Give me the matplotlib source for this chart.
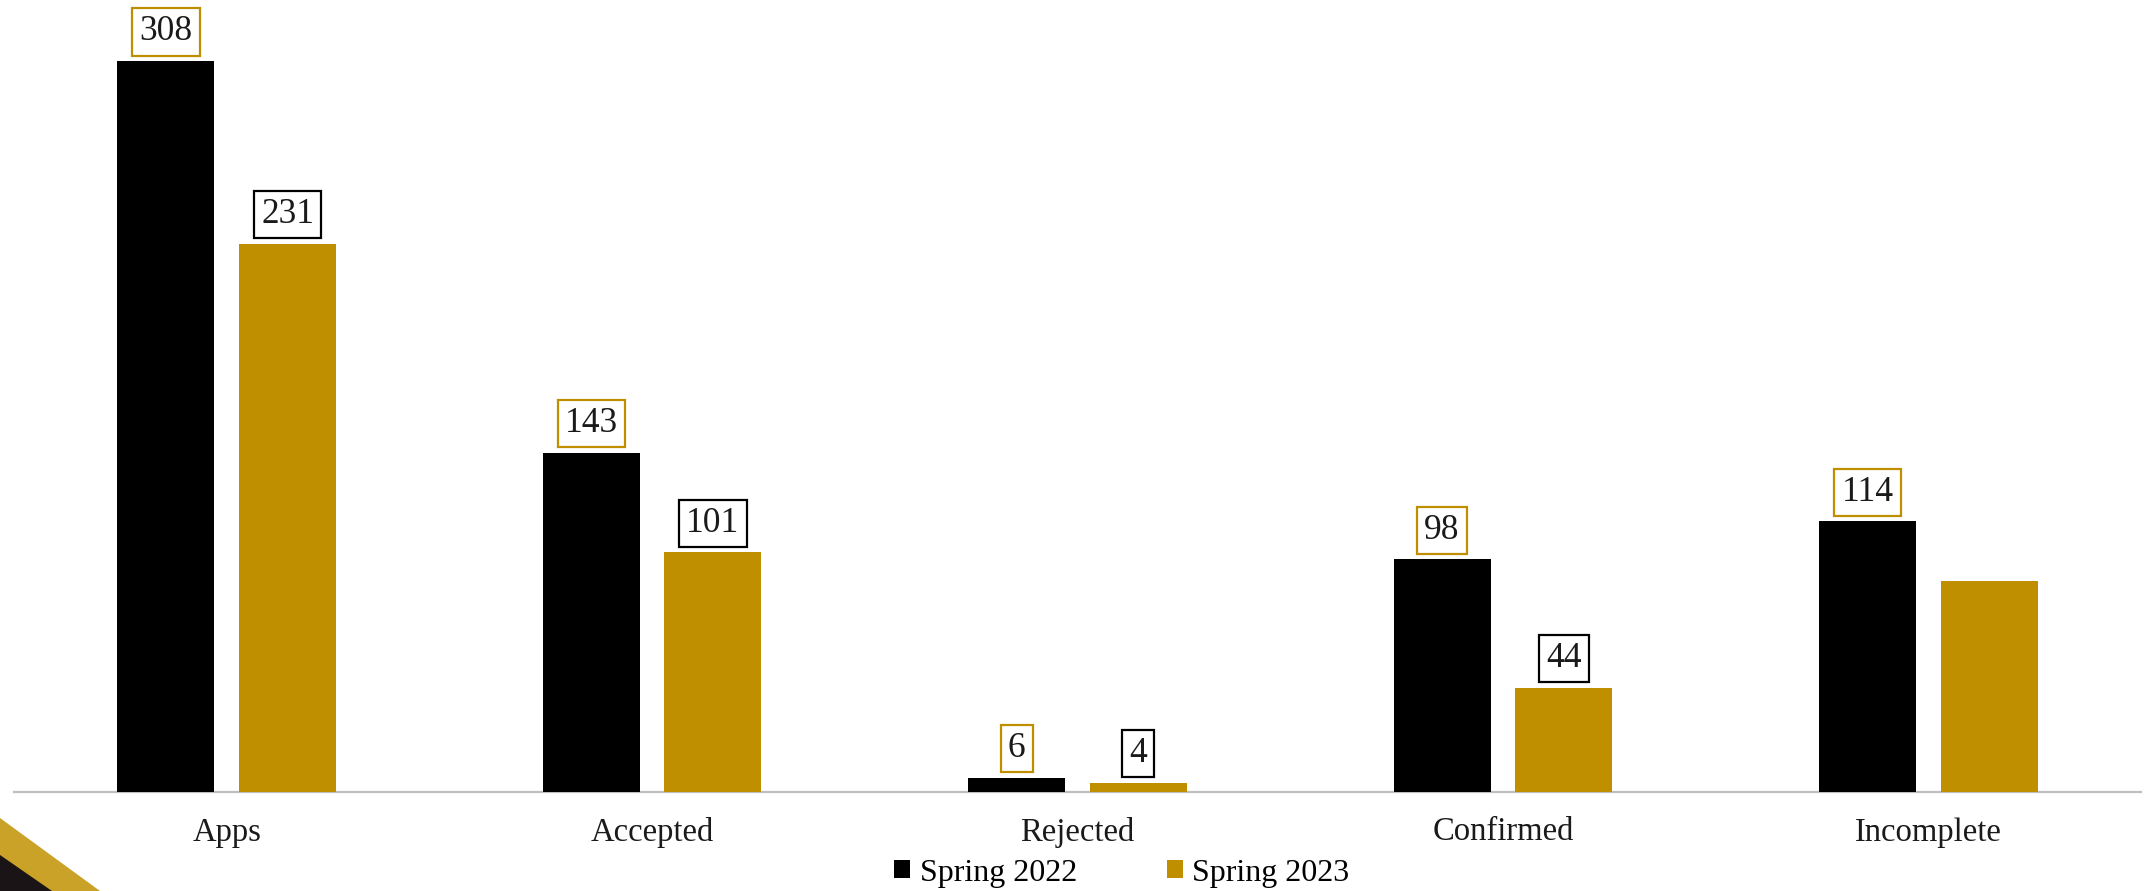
import matplotlib
matplotlib.use("Agg")
import matplotlib.pyplot as plt
from matplotlib.patches import Polygon
import numpy as np

categories = ["Apps", "Accepted", "Rejected", "Confirmed", "Incomplete"]
spring_2022 = [308, 143, 6, 98, 114]
spring_2023 = [231, 101, 4, 44, 89]
label_2022 = ["308", "143", "6", "98", "114"]
label_2023 = ["231", "101", "4", "44", ""]
series_names = ["Spring 2022", "Spring 2023"]

BLACK = "#000000"
GOLD = "#BF8F00"

plt.rcParams["font.family"] = ["Liberation Serif", "DejaVu Serif"]

W, H = 2149, 891
fig = plt.figure(figsize=(W / 100, H / 100), dpi=100)
fig.patch.set_facecolor("white")

ax = fig.add_axes([14 / W, (H - 792) / H, 2127 / W, 792 / H])
ax.set_facecolor("none")

x = np.arange(len(categories))
bw = 0.228
off = 0.143
b1 = ax.bar(x - off, spring_2022, width=bw, color=BLACK, label=series_names[0], zorder=3)
b2 = ax.bar(x + off, spring_2023, width=bw, color=GOLD, label=series_names[1], zorder=3)

ax.set_xlim(-0.5, len(categories) - 0.5)
ax.set_ylim(0, 792 / 2.373)

for s in ["top", "right", "left"]:
    ax.spines[s].set_visible(False)
ax.spines["bottom"].set_color("#BFBFBF")
ax.spines["bottom"].set_linewidth(1.6)
ax.set_yticks([])
ax.set_xticks(x)
ax.set_xticklabels(categories, fontsize=23.5, color="#1a1a1a")
ax.tick_params(axis="x", length=0, pad=18)

def add_labels(xs, vals, labels, edge):
    for xi, v, t in zip(xs, vals, labels):
        if not t:
            continue
        ax.annotate(t, xy=(xi, v), xytext=(0, 21), textcoords="offset points",
                    ha="center", va="center", fontsize=25.5, color="#1a1a1a", zorder=5,
                    bbox=dict(boxstyle="square,pad=0.2", facecolor="white",
                              edgecolor=edge, linewidth=1.6))

add_labels(x - off, spring_2022, label_2022, GOLD)
add_labels(x + off, spring_2023, label_2023, BLACK)

fig.legend(handles=[b1, b2], labels=series_names, loc="center",
           bbox_to_anchor=(1122 / W, (H - 873) / H), ncol=2, frameon=False,
           fontsize=23, handlelength=0.5, handleheight=0.5, handletextpad=0.3,
           columnspacing=2.8, borderpad=0, borderaxespad=0)

# decorative corner
def fpoly(pts, color):
    fig.add_artist(Polygon([(px / W, (H - py) / H) for px, py in pts],
                           closed=True, transform=fig.transFigure,
                           facecolor=color, edgecolor="none", zorder=0))

fpoly([(0, 818), (100, 891), (0, 891)], "#C9A227")
fpoly([(0, 855), (52, 891), (0, 891)], "#1a1416")

fig.savefig("out.png", dpi=100, facecolor="white")
